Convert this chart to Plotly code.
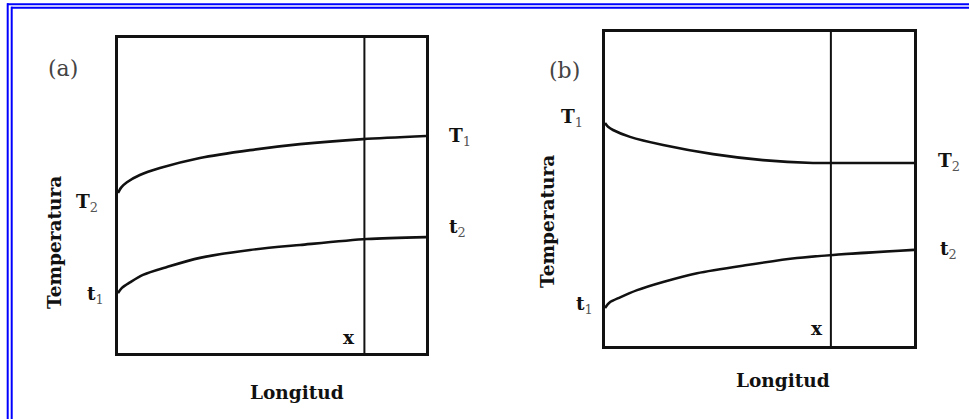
import plotly.graph_objects as go

# Position along the exchanger (fraction of total length) and temperature
# (fraction of the plotted temperature span) for each stream.
len_hot_a = [0, 0.010, 0.029, 0.071, 0.136, 0.266, 0.429, 0.591, 0.795, 1.0]
temp_hot_a = [0.508, 0.525, 0.542, 0.565, 0.587, 0.619, 0.644, 0.663, 0.679, 0.689]
len_cold_a = [0, 0.012, 0.039, 0.081, 0.159, 0.266, 0.429, 0.591, 0.808, 1.0]
temp_cold_a = [0.190, 0.206, 0.224, 0.248, 0.273, 0.302, 0.327, 0.343, 0.362, 0.368]

len_hot_b = [0, 0.010, 0.026, 0.081, 0.188, 0.350, 0.511, 0.673, 0.731, 1.0]
temp_hot_b = [0.710, 0.698, 0.688, 0.666, 0.640, 0.611, 0.592, 0.583, 0.583, 0.583]
len_cold_b = [0, 0.014, 0.049, 0.104, 0.188, 0.298, 0.460, 0.621, 0.738, 1.0]
temp_cold_b = [0.121, 0.138, 0.155, 0.178, 0.204, 0.232, 0.258, 0.280, 0.290, 0.306]

# Position of the section marked "x" in each panel
x_mark_a = 0.80
x_mark_b = 0.731

panel_tags = ["(a)", "(b)"]
axis_x_title = "Longitud"
axis_y_title = "Temperatura"

W, H = 969, 419
SERIF = "DejaVu Serif"
INK = "#111111"
SUB = "#555555"


def px_x(p):
    return p / W


def px_y(p):
    return 1 - p / H


fig = go.Figure()

line_style = dict(color=INK, width=2.6, shape="spline", smoothing=0.8)
for xa, ya, lx, ly in [("x", "y", len_hot_a, temp_hot_a), ("x", "y", len_cold_a, temp_cold_a),
                       ("x2", "y2", len_hot_b, temp_hot_b), ("x2", "y2", len_cold_b, temp_cold_b)]:
    fig.add_trace(go.Scatter(x=lx, y=ly, xaxis=xa, yaxis=ya, mode="lines",
                             line=line_style, hoverinfo="skip", showlegend=False))

for xa, ya, xm in [("x", "y", x_mark_a), ("x2", "y2", x_mark_b)]:
    fig.add_trace(go.Scatter(x=[xm, xm], y=[0, 1], xaxis=xa, yaxis=ya, mode="lines",
                             line=dict(color=INK, width=2), hoverinfo="skip", showlegend=False))

frame_axis = dict(range=[0, 1], showline=True, mirror=True, linewidth=3, linecolor=INK,
                  showgrid=False, zeroline=False, showticklabels=False, ticks="", fixedrange=True)

fig.update_layout(
    width=W, height=H,
    margin=dict(l=0, r=0, t=0, b=0),
    paper_bgcolor="white", plot_bgcolor="white",
    xaxis=dict(domain=[px_x(118), px_x(426)], anchor="y", **frame_axis),
    yaxis=dict(domain=[px_y(353), px_y(38)], anchor="x", **frame_axis),
    xaxis2=dict(domain=[px_x(605), px_x(914)], anchor="y2", **frame_axis),
    yaxis2=dict(domain=[px_y(346), px_y(32)], anchor="x2", **frame_axis),
    font=dict(family=SERIF, color=INK),
)


def sym(letter, digit):
    return f"<b>{letter}</b><sub><span style='color:{SUB}'>{digit}</span></sub>"


LBL = 18.5
ann = []
# panel (a): stream end temperatures and the marked section
ann += [
    dict(x=0, y=temp_hot_a[0], xref="x", yref="y", text=sym("T", 2), xanchor="right",
         xshift=-18, yshift=-10),
    dict(x=0, y=temp_cold_a[0], xref="x", yref="y", text=sym("t", 1), xanchor="right",
         xshift=-12, yshift=-2),
    dict(x=1, y=temp_hot_a[-1], xref="x", yref="y", text=sym("T", 1), xanchor="left",
         xshift=21, yshift=-1),
    dict(x=1, y=temp_cold_a[-1], xref="x", yref="y", text=sym("t", 2), xanchor="left",
         xshift=21, yshift=9),
    dict(x=x_mark_a, y=0, xref="x", yref="y", text="<b>x</b>", xanchor="right",
         xshift=-7, yshift=16),
]
# panel (b)
ann += [
    dict(x=0, y=temp_hot_b[0], xref="x2", yref="y2", text=sym("T", 1), xanchor="right",
         xshift=-20, yshift=5),
    dict(x=0, y=temp_cold_b[0], xref="x2", yref="y2", text=sym("t", 1), xanchor="right",
         xshift=-10, yshift=3),
    dict(x=1, y=temp_hot_b[-1], xref="x2", yref="y2", text=sym("T", 2), xanchor="left",
         xshift=22, yshift=1),
    dict(x=1, y=temp_cold_b[-1], xref="x2", yref="y2", text=sym("t", 2), xanchor="left",
         xshift=24, yshift=0),
    dict(x=x_mark_b, y=0, xref="x2", yref="y2", text="<b>x</b>", xanchor="right",
         xshift=-6, yshift=18),
]
for a in ann:
    a.update(showarrow=False, yanchor="middle", font=dict(family=SERIF, size=LBL, color=INK))

# axis titles and panel tags, centred on their spots around each frame
for lx, ly, tx, ty, gx, gy, tag in [
    (297, 392, 54, 243, 63, 68, panel_tags[0]),
    (783, 380, 547, 222, 564, 71, panel_tags[1]),
]:
    common = dict(xref="paper", yref="paper", showarrow=False, xanchor="center", yanchor="middle")
    ann.append(dict(x=px_x(lx), y=px_y(ly), text=f"<b>{axis_x_title}</b>",
                    font=dict(family=SERIF, size=18.5, color=INK), **common))
    ann.append(dict(x=px_x(tx), y=px_y(ty), text=f"<b>{axis_y_title}</b>", textangle=-90,
                    font=dict(family=SERIF, size=18.5, color=INK), **common))
    ann.append(dict(x=px_x(gx), y=px_y(gy), text=tag,
                    font=dict(family=SERIF, size=22, color="#444444"), **common))

fig.update_layout(annotations=ann)

# double blue page border along the top and left edges
BLUE = "#0000ff"
shapes = [
    dict(type="line", xref="paper", yref="paper", x0=px_x(7), x1=1, y0=px_y(4.3), y1=px_y(4.3),
         line=dict(color=BLUE, width=2)),
    dict(type="line", xref="paper", yref="paper", x0=px_x(11), x1=1, y0=px_y(7.7), y1=px_y(7.7),
         line=dict(color=BLUE, width=2)),
    dict(type="line", xref="paper", yref="paper", x0=px_x(7.7), x1=px_x(7.7), y0=px_y(3.3), y1=0,
         line=dict(color=BLUE, width=2)),
    dict(type="line", xref="paper", yref="paper", x0=px_x(11.7), x1=px_x(11.7), y0=px_y(6.7), y1=0,
         line=dict(color=BLUE, width=2)),
]
fig.update_layout(shapes=shapes)

fig.write_html("out.html")
